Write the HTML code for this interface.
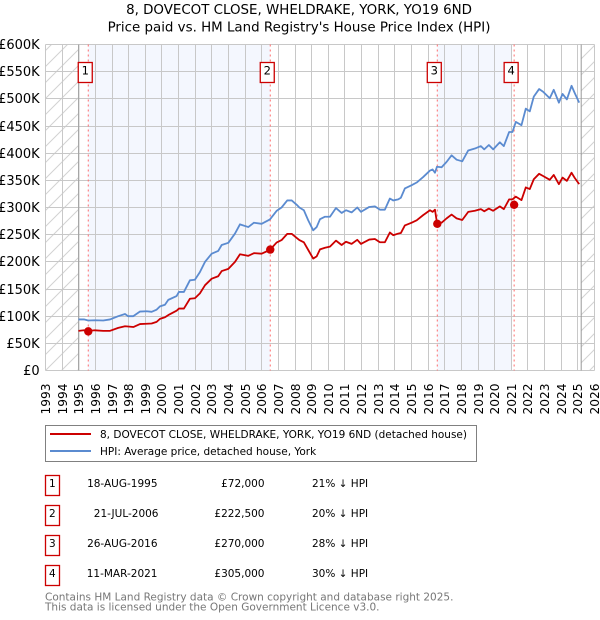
<!DOCTYPE html>
<html>
<head>
<meta charset="utf-8">
<title>House price chart</title>
<style>
html,body{margin:0;padding:0;background:#fff;}
body{width:600px;height:620px;overflow:hidden;}
svg{display:block;}
text{font-family:"DejaVu Sans",sans-serif;fill:#000;}
</style>
</head>
<body>
<svg id="chart" width="600" height="620" viewBox="0 0 600 620" xmlns="http://www.w3.org/2000/svg">
  <defs>
    <pattern id="hatch" patternUnits="userSpaceOnUse" width="16" height="16">
      <path d="M-2 18L18 -2M-2 2L2 -2M14 18L18 14" stroke="#d2d2d2" stroke-width="1" fill="none"/>
    </pattern>
  </defs>
  <text x="299" y="14" text-anchor="middle" font-size="13.4">8, DOVECOT CLOSE, WHELDRAKE, YORK, YO19 6ND</text>
  <text x="299" y="31.5" text-anchor="middle" font-size="13.4">Price paid vs. HM Land Registry's House Price Index (HPI)</text>
  <g id="plot"></g>

  <g>
    <rect x="45.5" y="425.5" width="431" height="36" fill="#fff" stroke="#808080" stroke-width="1"/>
    <line x1="50" x2="91" y1="434" y2="434" stroke="#cc0000" stroke-width="2"/>
    <line x1="50" x2="91" y1="451" y2="451" stroke="#5b8bd0" stroke-width="2"/>
    <text x="100" y="438" font-size="10.5">8, DOVECOT CLOSE, WHELDRAKE, YORK, YO19 6ND (detached house)</text>
    <text x="100" y="455" font-size="10.5">HPI: Average price, detached house, York</text>
  </g>

  <g>
    <g>
      <rect x="45.5" y="475.5" width="14" height="20" fill="#fff" stroke="#cc0000" stroke-width="1.3"/>
      <text x="52.3" y="487" text-anchor="middle" font-size="10.5">1</text>
      <text x="157.5" y="487" text-anchor="end" font-size="10.5">18-AUG-1995</text>
      <text x="264.5" y="487" text-anchor="end" font-size="10.5">£72,000</text>
      <text x="312" y="487" font-size="10.5">21% ↓ HPI</text>
    </g>
    <g>
      <rect x="45.5" y="505.5" width="14" height="20" fill="#fff" stroke="#cc0000" stroke-width="1.3"/>
      <text x="52.3" y="517" text-anchor="middle" font-size="10.5">2</text>
      <text x="158.5" y="517" text-anchor="end" font-size="10.5">21-JUL-2006</text>
      <text x="264.5" y="517" text-anchor="end" font-size="10.5">£222,500</text>
      <text x="312" y="517" font-size="10.5">20% ↓ HPI</text>
    </g>
    <g>
      <rect x="45.5" y="535.5" width="14" height="20" fill="#fff" stroke="#cc0000" stroke-width="1.3"/>
      <text x="52.3" y="547" text-anchor="middle" font-size="10.5">3</text>
      <text x="157.5" y="547" text-anchor="end" font-size="10.5">26-AUG-2016</text>
      <text x="264.5" y="547" text-anchor="end" font-size="10.5">£270,000</text>
      <text x="312" y="547" font-size="10.5">28% ↓ HPI</text>
    </g>
    <g>
      <rect x="45.5" y="565.5" width="14" height="20" fill="#fff" stroke="#cc0000" stroke-width="1.3"/>
      <text x="52.3" y="577" text-anchor="middle" font-size="10.5">4</text>
      <text x="157.5" y="577" text-anchor="end" font-size="10.5">11-MAR-2021</text>
      <text x="264.5" y="577" text-anchor="end" font-size="10.5">£305,000</text>
      <text x="312" y="577" font-size="10.5">30% ↓ HPI</text>
    </g>
  </g>

  <text x="45" y="600.5" font-size="10.5" style="fill:#777">Contains HM Land Registry data © Crown copyright and database right 2025.</text>
  <text x="45" y="610.5" font-size="10.5" style="fill:#777">This data is licensed under the Open Government Licence v3.0.</text>
</svg>

<script>
const dates = [1994.98,1995.31,1995.57,1995.97,1996.47,1996.88,1997.37,1997.78,1997.96,1998.28,1998.68,1999.08,1999.38,1999.68,1999.88,2000.18,2000.38,2000.88,2001.02,2001.32,2001.68,2001.98,2002.28,2002.59,2002.99,2003.38,2003.59,2003.99,2004.39,2004.69,2005.19,2005.53,2005.99,2006.49,2006.89,2007.19,2007.53,2007.80,2008.10,2008.26,2008.53,2008.79,2009.09,2009.30,2009.50,2009.80,2010.10,2010.46,2010.80,2011.06,2011.40,2011.74,2011.96,2012.46,2012.80,2013.10,2013.40,2013.70,2013.90,2014.20,2014.36,2014.60,2015.01,2015.31,2015.70,2016.11,2016.27,2016.41,2016.53,2016.81,2017.11,2017.41,2017.71,2018.05,2018.41,2018.81,2019.17,2019.37,2019.65,2019.91,2020.31,2020.55,2020.87,2021.07,2021.27,2021.61,2021.87,2022.11,2022.35,2022.67,2022.91,2023.31,2023.55,2023.86,2024.08,2024.34,2024.62,2024.82,2025.08];
const hpiValues = [94,94,92,92.5,92,94,100,104,100,100,108.5,109,108,112,118,121,130,137,144.6,144.6,166,167,181,200,215,220,231,235,252,269,264,272,270,278,293.7,300,313,313,305,300,295,276.5,258,264,278.5,283,283,299,290,295,291,300,292,301,302,296,296,316.5,313,315,318,335,341,346,356,368,370,364,375,374,384,396,388,385,405,408.5,413,407,415,407,420,413,439,439,457.6,451.5,482,477,504,518,513,501,516.6,493,509,499,524,510,493];
const paidValues = [73,74,73,74,73,73,78.5,81.5,81,80,85.5,86,86.5,89.5,95,98,102,110,114,114,132,133,142,157,169,173.5,183,187,200,214,211,216,215,222,235.5,240,251.5,251.5,244,240,236,222,206,210,223,226,228,239,231,237,233,240.5,233,241,242,236,236,254,249,252,253,267,272,276.5,286,295,292,296,272,272,280,287,280,277,292,294,297,293,298,294,302,297,315,315,320,313.6,337,334,352,362,358,351,360,343,355,349,364,354,343];
const saleDates = [1995.57,2006.51,2016.55,2021.17];
const salePrices = [72,222.5,270,305];
const saleLabels = ["1","2","3","4"];
const shadedSpans = [[1995.57,2006.49],[2016.55,2021.03]];
const yTicks = [0,50,100,150,200,250,300,350,400,450,500,550,600];
const yTickLabels = ["£0","£50K","£100K","£150K","£200K","£250K","£300K","£350K","£400K","£450K","£500K","£550K","£600K"];
const xTicks = [1993,1994,1995,1996,1997,1998,1999,2000,2001,2002,2003,2004,2005,2006,2007,2008,2009,2010,2011,2012,2013,2014,2015,2016,2017,2018,2019,2020,2021,2022,2023,2024,2025,2026];
const dataStart = 1995;
const dataEnd = 2025.2;

const NS = "http://www.w3.org/2000/svg";
const plot = document.getElementById("plot");
const L = 45.5, R = 594.5, T = 44.5, B = 370.5;
function sx(year){ return L + (year - 1993) * (R - L) / 33; }
function sy(v){ return B - v * (B - T) / 600; }
function make(tag, attrs, parent){
  const el = document.createElementNS(NS, tag);
  for (const k in attrs) el.setAttribute(k, attrs[k]);
  (parent || plot).appendChild(el);
  return el;
}

// shaded sale spans
shadedSpans.forEach(function(s){
  const el = make("rect", {x:sx(s[0]), y:T, width:sx(s[1])-sx(s[0]), height:B-T, fill:"#f4f7fe"});
  
  
});

// out of range hatching
const hatchLeft = make("rect", {x:L, y:T, width:sx(dataStart)-L, height:B-T, fill:"url(#hatch)"});


const hatchRight = make("rect", {x:sx(dataEnd), y:T, width:R-sx(dataEnd), height:B-T, fill:"url(#hatch)"});



// grid and ticks
yTicks.forEach(function(v, i){
  const y = Math.round(sy(v) - 0.5) + 0.5;
  const g = make("line", {x1:L, x2:R, y1:y, y2:y, stroke:"#c8c8c8", "stroke-width":1});
  
  
  const t = make("text", {x:39.7, y:y + 4.5, "text-anchor":"end", "font-size":13});
  t.textContent = yTickLabels[i];
  
  
});
xTicks.forEach(function(yr){
  const x = Math.round(sx(yr) - 0.5) + 0.5;
  const g = make("line", {x1:x, x2:x, y1:T, y2:B, stroke:"#c8c8c8", "stroke-width":1});
  
  
  const t = make("text", {transform:"translate(" + (x + 4.5) + ",414.5) rotate(-90)", "font-size":12.2});
  t.textContent = String(yr);
  
  
});

// data range bounds
[dataStart, dataEnd].forEach(function(yr){
  const x = sx(yr);
  const g = make("line", {x1:x, x2:x, y1:T, y2:B, stroke:"#999", "stroke-width":1});
  
  
});

// sale marker lines
saleDates.forEach(function(d){
  const x = sx(d);
  const g = make("line", {x1:x, x2:x, y1:T, y2:B, stroke:"#ff6b6b", "stroke-width":1, "stroke-dasharray":"2 3"});
  
  
});

function linePath(values){
  return values.map(function(v, i){
    return (i ? "L" : "M") + sx(dates[i]).toFixed(2) + " " + sy(v).toFixed(2);
  }).join("");
}
const hpiLine = make("path", {d:linePath(hpiValues), fill:"none", stroke:"#5b8bd0", "stroke-width":1.8, "stroke-linejoin":"round"});


const paidLine = make("path", {d:linePath(paidValues), fill:"none", stroke:"#cc0000", "stroke-width":1.8, "stroke-linejoin":"round"});



// sale points and badges
saleDates.forEach(function(d, i){
  const x = sx(d);
  const c = make("circle", {cx:x, cy:sy(salePrices[i]), r:4.2, fill:"#cc0000"});
  
  
  const b = make("rect", {x:x - 10, y:62.5, width:14, height:20, fill:"#fff", stroke:"#cc0000", "stroke-width":1.3});
  
  
  const t = make("text", {x:x - 3, y:74.5, "text-anchor":"middle", "font-size":11.5});
  t.textContent = saleLabels[i];
  
  
});
</script>
</body>
</html>
